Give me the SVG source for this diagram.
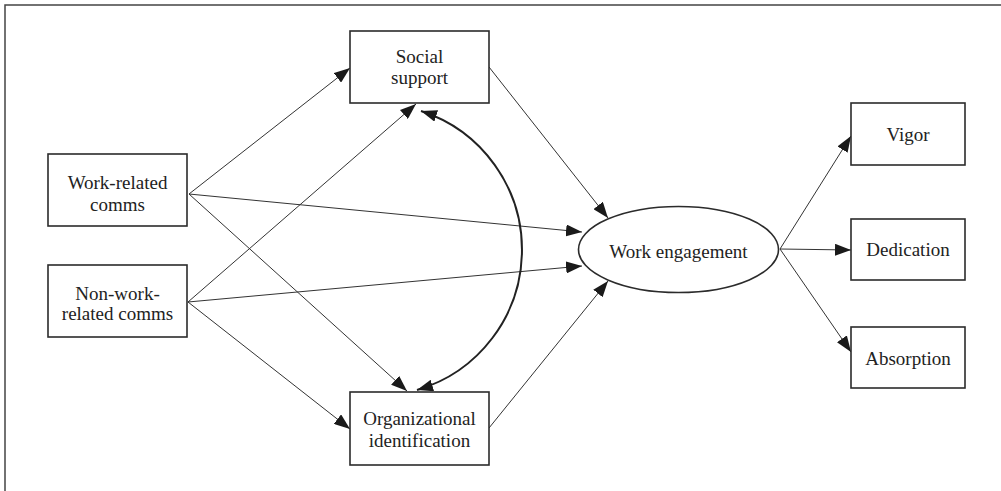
<svg xmlns="http://www.w3.org/2000/svg" width="1001" height="491" viewBox="0 0 1001 491">
  <style>
    .box { fill: #fff; stroke: #2b2b2b; stroke-width: 1.6; }
    .lbl { font-family: "Liberation Serif", "Times New Roman", serif; font-size: 19px; fill: #222; text-anchor: middle; }
    .edge { fill: none; stroke: #333; stroke-width: 1; }
    .cov { fill: none; stroke: #222; stroke-width: 2; }
  </style>
  <defs>
    <marker id="arrow" viewBox="0 0 16 12" refX="16" refY="6" markerWidth="16" markerHeight="12" markerUnits="userSpaceOnUse" orient="auto-start-reverse">
      <path d="M0,0 L16,6 L0,12 Z" fill="#1a1a1a"/>
    </marker>
  </defs>

  <rect width="1001" height="491" fill="#fff"/>
  <!-- outer frame -->
  <rect x="5" y="5" width="1010" height="500" fill="none" stroke="#444" stroke-width="1.5"/>

  <g id="connectors">
    <line class="edge" x1="189" y1="194" x2="350" y2="68" marker-end="url(#arrow)"/>
    <line class="edge" x1="189" y1="194" x2="582" y2="232" marker-end="url(#arrow)"/>
    <line class="edge" x1="189" y1="194" x2="407" y2="391" marker-end="url(#arrow)"/>
    <line class="edge" x1="188" y1="302" x2="416" y2="104" marker-end="url(#arrow)"/>
    <line class="edge" x1="188" y1="302" x2="582" y2="266" marker-end="url(#arrow)"/>
    <line class="edge" x1="188" y1="302" x2="350" y2="429" marker-end="url(#arrow)"/>
    <line class="edge" x1="489" y1="67" x2="608" y2="218" marker-end="url(#arrow)"/>
    <line class="edge" x1="489" y1="428" x2="608" y2="281" marker-end="url(#arrow)"/>
    <line class="edge" x1="780" y1="249" x2="851" y2="136" marker-end="url(#arrow)"/>
    <line class="edge" x1="780" y1="249" x2="851" y2="250" marker-end="url(#arrow)"/>
    <line class="edge" x1="780" y1="249" x2="851" y2="352" marker-end="url(#arrow)"/>
    <path class="cov" d="M421,111 A146,146 0 0,1 417,390" marker-start="url(#arrow)" marker-end="url(#arrow)"/>
  </g>

  <g id="social-support">
    <rect class="box" x="350" y="31" width="139" height="72"/>
    <text class="lbl" x="419.5" y="63">Social</text>
    <text class="lbl" x="419.5" y="84">support</text>
  </g>
  <g id="work-related-comms">
    <rect class="box" x="48" y="154" width="139" height="72"/>
    <text class="lbl" x="117.5" y="189">Work-related</text>
    <text class="lbl" x="117.5" y="211">comms</text>
  </g>
  <g id="non-work-related-comms">
    <rect class="box" x="48" y="265" width="139" height="72"/>
    <text class="lbl" x="117.5" y="300">Non-work-</text>
    <text class="lbl" x="117.5" y="320">related comms</text>
  </g>
  <g id="organizational-identification">
    <rect class="box" x="350" y="392" width="139" height="73"/>
    <text class="lbl" x="419.5" y="425">Organizational</text>
    <text class="lbl" x="419.5" y="447">identification</text>
  </g>
  <g id="work-engagement">
    <ellipse class="box" cx="678.5" cy="249.5" rx="100" ry="43"/>
    <text class="lbl" x="678.5" y="258">Work engagement</text>
  </g>
  <g id="vigor">
    <rect class="box" x="851" y="103" width="114" height="62"/>
    <text class="lbl" x="908" y="141">Vigor</text>
  </g>
  <g id="dedication">
    <rect class="box" x="851" y="219" width="114" height="61"/>
    <text class="lbl" x="908" y="256">Dedication</text>
  </g>
  <g id="absorption">
    <rect class="box" x="851" y="327" width="114" height="61"/>
    <text class="lbl" x="908" y="365">Absorption</text>
  </g>
</svg>
